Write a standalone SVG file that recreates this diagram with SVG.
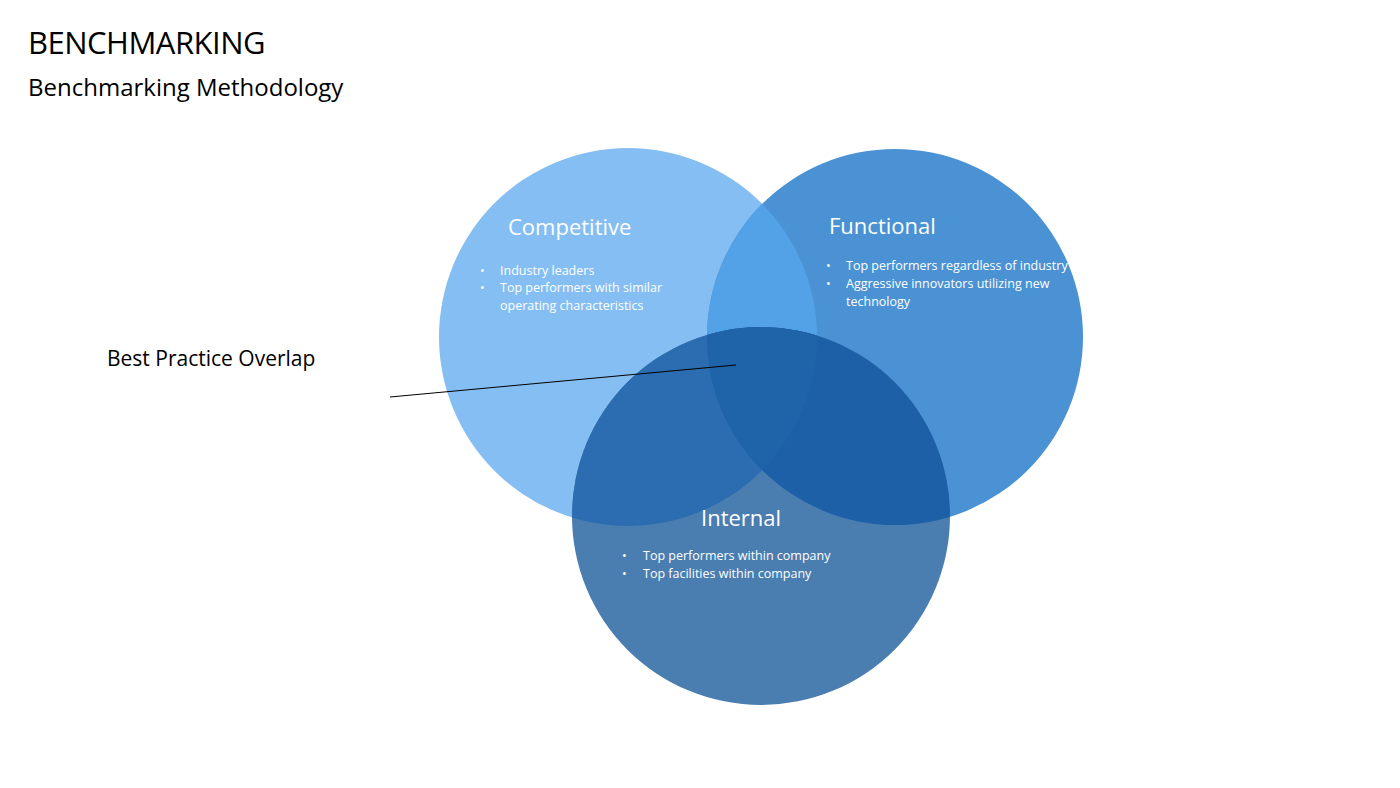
<svg xmlns="http://www.w3.org/2000/svg" width="1400" height="788" viewBox="0 0 1400 788">
<style>
text{font-family:"Open Sans","Liberation Sans",sans-serif}
.h{font-size:22px;fill:#fff}
.b{font-size:12.5px;fill:#fff}
</style>
<defs>
<clipPath id="cC"><circle cx="628" cy="337" r="189"/></clipPath>
<clipPath id="cF"><circle cx="895" cy="337" r="188"/></clipPath>
</defs>
<rect width="1400" height="788" fill="#fff"/>
<text x="28" y="54" font-size="31" fill="#000" letter-spacing="-0.5">BENCHMARKING</text>
<text x="28" y="96" font-size="24" fill="#000">Benchmarking Methodology</text>
<g id="competitive"><circle cx="628" cy="337" r="189" fill="#85BEF2"/></g>
<g id="functional"><circle cx="895" cy="337" r="188" fill="#4A92D3"/>
<circle cx="895" cy="337" r="188" fill="#53A2E8" clip-path="url(#cC)"/></g>
<g id="internal"><circle cx="761" cy="516" r="189" fill="#4A7DB0"/>
<circle cx="761" cy="516" r="189" fill="#2B6DB0" clip-path="url(#cC)"/>
<circle cx="761" cy="516" r="189" fill="#1E60A8" clip-path="url(#cF)"/>
<g clip-path="url(#cF)"><circle cx="761" cy="516" r="189" fill="#1F63A9" clip-path="url(#cC)"/></g></g>
<g id="labels">
<text class="h" x="508" y="235">Competitive</text>
<text class="b" x="480" y="275">•</text><text class="b" x="500" y="275">Industry leaders</text>
<text class="b" x="480" y="292">•</text><text class="b" x="500" y="292">Top performers with similar</text>
<text class="b" x="500" y="310">operating characteristics</text>
<text class="h" x="829" y="234">Functional</text>
<text class="b" x="826" y="270">•</text><text class="b" x="846" y="270">Top performers regardless of industry</text>
<text class="b" x="826" y="288">•</text><text class="b" x="846" y="288">Aggressive innovators utilizing new</text>
<text class="b" x="846" y="306">technology</text>
<text class="h" x="701" y="526">Internal</text>
<text class="b" x="622" y="560">•</text><text class="b" x="643" y="560">Top performers within company</text>
<text class="b" x="622" y="578">•</text><text class="b" x="643" y="578">Top facilities within company</text>
<text x="107" y="366" font-size="21" fill="#000">Best Practice Overlap</text>
</g>
<g id="connectors"><line x1="390" y1="397" x2="736" y2="365" stroke="#000" stroke-width="1"/></g>
</svg>
